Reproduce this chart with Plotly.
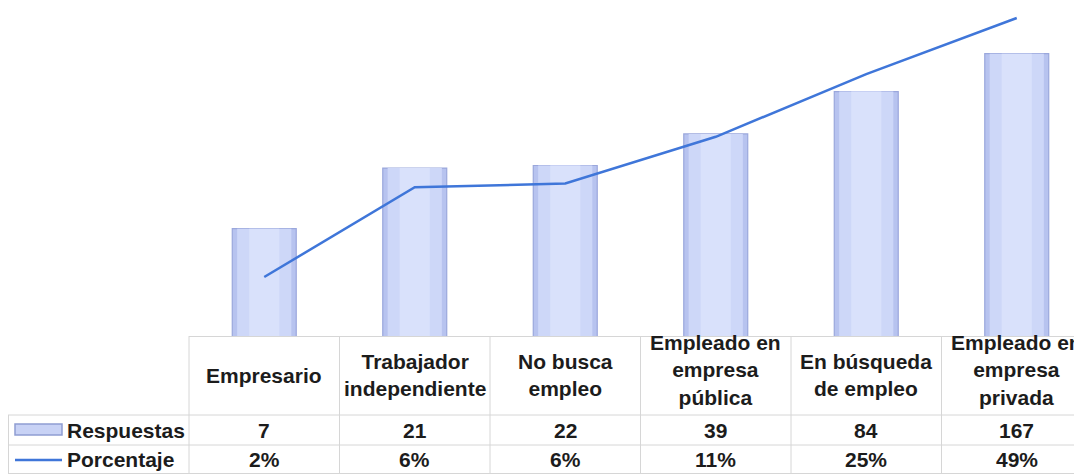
"""Respuestas por situación laboral: barras (log) + porcentaje con tabla de datos."""

import plotly.graph_objects as go

# --- data -------------------------------------------------------------------
categories = [
    "Empresario",
    "Trabajador independiente",
    "No busca empleo",
    "Empleado en empresa pública",
    "En búsqueda de empleo",
    "Empleado en empresa privada",
]
header_labels = [
    "Empresario",
    "Trabajador<br>independiente",
    "No busca<br>empleo",
    "Empleado en<br>empresa<br>pública",
    "En búsqueda<br>de empleo",
    "Empleado en<br>empresa<br>privada",
]
respuestas = [7, 21, 22, 39, 84, 167]
porcentaje = [2.06, 6.18, 6.47, 11.47, 24.71, 49.12]

# --- layout geometry (pixels, in reference-image coordinates) ---------------
OFF = 8                      # page body margin
W, H = 1082 - OFF, 474 - OFF
L, PLOT_BOTTOM = 189, 336    # plot area left / bottom in image pixels
PW = 1082 - L
PH = PLOT_BOTTOM - OFF
COL_W = 150.5
FONT = "Liberation Sans, Arial, sans-serif"
TXT = "#1c1c1c"
GRID = "#d6d6d6"
LINE_BLUE = "#3f76d9"


def px(x):
    return (x - L) / PW


def py(y):
    return (PLOT_BOTTOM - y) / PH


fig = go.Figure()

# bars drawn as overlaid layers to fake the bevelled gradient look
fig.add_trace(go.Bar(
    x=categories, y=respuestas, width=0.425, name="Respuestas",
    marker=dict(color="#b7c3ef", line=dict(color="#9aa7dc", width=1.2)),
    hoverinfo="y",
))
fig.add_trace(go.Bar(
    x=categories, y=respuestas, width=0.36, showlegend=False,
    marker=dict(color="#cdd7f8", line=dict(width=0)), hoverinfo="skip",
))
fig.add_trace(go.Bar(
    x=categories, y=respuestas, width=0.2, showlegend=False,
    marker=dict(color="#d9e1fb", line=dict(width=0)), hoverinfo="skip",
))

fig.add_trace(go.Scatter(
    x=categories, y=porcentaje, yaxis="y2", mode="lines", name="Porcentaje",
    line=dict(color=LINE_BLUE, width=2.5),
))

# --- data table below the plot ---------------------------------------------
shapes = []


def hline(y, x0, x1):
    shapes.append(dict(type="line", xref="paper", yref="paper",
                       x0=px(x0), x1=px(x1), y0=py(y), y1=py(y),
                       line=dict(color=GRID, width=1)))


def vline(x, y0, y1):
    shapes.append(dict(type="line", xref="paper", yref="paper",
                       x0=px(x), x1=px(x), y0=py(y0), y1=py(y1),
                       line=dict(color=GRID, width=1)))


hline(336.5, L, 1082)
hline(415, 8, 1082)
hline(445, 8, 1082)
hline(473.5, 8, 1082)
for k in range(len(categories)):
    vline(L + k * COL_W, 336, 474)
vline(8.5, 415, 474)

# legend keys
shapes.append(dict(type="rect", xref="paper", yref="paper",
                   x0=px(15), x1=px(62), y0=py(435), y1=py(424),
                   fillcolor="#c8d2f5", line=dict(color="#8f9dd2", width=1.5)))
shapes.append(dict(type="line", xref="paper", yref="paper",
                   x0=px(15), x1=px(62), y0=py(460), y1=py(460),
                   line=dict(color=LINE_BLUE, width=2.5)))

annotations = []
for i, cat in enumerate(categories):
    n_lines = header_labels[i].count("<br>") + 1
    header_y = 370 if n_lines == 3 else 375
    annotations.append(dict(x=cat, xref="x", y=py(header_y), yref="paper",
                            text=header_labels[i], showarrow=False,
                            yanchor="middle", align="center"))
    annotations.append(dict(x=cat, xref="x", y=py(430), yref="paper",
                            text=str(respuestas[i]), showarrow=False,
                            yanchor="middle"))
    annotations.append(dict(x=cat, xref="x", y=py(460), yref="paper",
                            text=f"{round(porcentaje[i])}%", showarrow=False,
                            yanchor="middle"))
for label, y in (("Respuestas", 430), ("Porcentaje", 460)):
    annotations.append(dict(x=px(65), xref="paper", y=py(y), yref="paper",
                            text=label, showarrow=False, xanchor="left",
                            yanchor="middle"))

fig.update_layout(
    width=W, height=H,
    margin=dict(l=L - OFF, r=0, t=0, b=474 - PLOT_BOTTOM, pad=0),
    paper_bgcolor="white", plot_bgcolor="white",
    barmode="overlay", showlegend=False,
    font=dict(family=FONT, size=21, color=TXT, weight="bold"),
    xaxis=dict(range=[-0.5, -0.5 + PW / COL_W], showticklabels=False,
               showgrid=False, zeroline=False, showline=False, ticks=""),
    yaxis=dict(type="log", range=[0, PH / 127], visible=False),
    yaxis2=dict(type="log", range=[0, PH / 188], overlaying="y",
                side="right", visible=False),
    shapes=shapes,
    annotations=annotations,
)

fig.write_html("out.html")
